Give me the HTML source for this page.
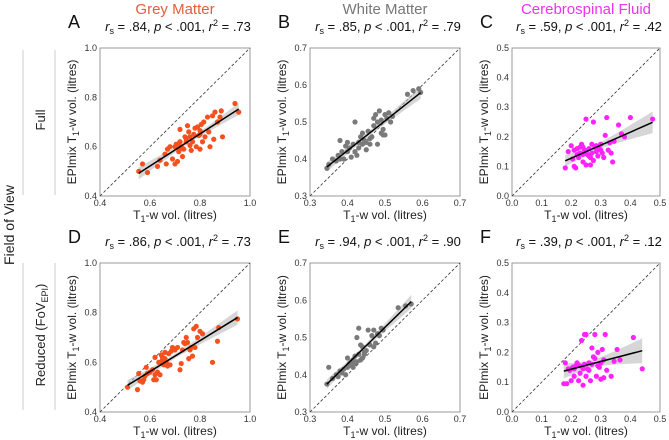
<!DOCTYPE html>
<html><head><meta charset="utf-8"><style>
body{margin:0;background:#fff;}
svg{display:block;font-family:"Liberation Sans",sans-serif;}
</style></head><body>
<svg id="fig" width="669" height="440" viewBox="0 0 669 440">
<g>
<line x1="23" y1="50" x2="23" y2="195" stroke="#ccc"/>
<line x1="55" y1="50" x2="55" y2="195" stroke="#ccc"/>
<line x1="23" y1="263" x2="23" y2="410" stroke="#ccc"/>
<line x1="55" y1="263" x2="55" y2="410" stroke="#ccc"/>
<text transform="translate(14,225) rotate(-90)" text-anchor="middle" font-size="14" fill="#222">Field of View</text>
<text transform="translate(45,120) rotate(-90)" text-anchor="middle" font-size="13" fill="#222">Full</text>
<text transform="translate(45,335) rotate(-90)" text-anchor="middle" font-size="13" fill="#222">Reduced (FoV<tspan font-size="9" dy="3">EPI</tspan><tspan dy="-3">)</tspan></text>
</g>
<text x="175" y="14" text-anchor="middle" font-size="15" fill="#e0603a">Grey Matter</text>
<text x="385" y="14" text-anchor="middle" font-size="15" fill="#777">White Matter</text>
<text x="586" y="14" text-anchor="middle" font-size="15" fill="#ee33ee">Cerebrospinal Fluid</text>
</svg>
<script>
const aX=[0.555,0.57,0.59,0.63,0.64,0.66,0.665,0.67,0.68,0.69,0.70,0.70,0.705,0.71,0.715,0.72,0.72,0.725,0.73,0.735,0.74,0.745,0.75,0.755,0.76,0.765,0.77,0.775,0.78,0.785,0.79,0.795,0.80,0.80,0.805,0.81,0.815,0.82,0.83,0.835,0.84,0.85,0.855,0.86,0.87,0.88,0.885,0.89,0.94,0.955,0.71,0.745,0.76,0.72,0.80];
const aY=[0.50,0.53,0.495,0.52,0.545,0.57,0.53,0.59,0.60,0.55,0.53,0.60,0.61,0.54,0.58,0.62,0.67,0.60,0.56,0.59,0.64,0.62,0.685,0.66,0.605,0.585,0.62,0.65,0.675,0.60,0.68,0.645,0.59,0.65,0.69,0.62,0.70,0.64,0.72,0.66,0.60,0.725,0.63,0.74,0.70,0.72,0.745,0.64,0.775,0.74,0.61,0.63,0.64,0.59,0.665];
const bX=[0.345,0.35,0.36,0.37,0.375,0.38,0.385,0.39,0.395,0.40,0.405,0.41,0.415,0.42,0.42,0.425,0.43,0.435,0.44,0.445,0.45,0.455,0.46,0.465,0.47,0.47,0.475,0.48,0.48,0.485,0.49,0.495,0.50,0.50,0.505,0.51,0.515,0.52,0.56,0.575,0.59,0.595,0.44,0.46,0.43,0.45,0.49,0.495,0.40,0.38];
const bY=[0.375,0.385,0.40,0.395,0.41,0.45,0.42,0.40,0.435,0.445,0.43,0.405,0.44,0.50,0.42,0.41,0.43,0.46,0.44,0.45,0.425,0.475,0.44,0.46,0.49,0.51,0.52,0.44,0.50,0.53,0.505,0.48,0.465,0.52,0.51,0.525,0.50,0.515,0.575,0.585,0.59,0.58,0.47,0.455,0.445,0.445,0.47,0.465,0.42,0.40];
const cX=[0.18,0.19,0.20,0.205,0.21,0.215,0.22,0.22,0.225,0.23,0.235,0.24,0.24,0.245,0.25,0.25,0.255,0.26,0.265,0.27,0.275,0.275,0.28,0.285,0.29,0.295,0.30,0.305,0.31,0.315,0.32,0.325,0.33,0.335,0.34,0.345,0.36,0.37,0.38,0.40,0.475,0.21,0.23,0.26,0.285,0.25,0.27,0.30,0.24,0.265];
const cY=[0.095,0.15,0.17,0.125,0.10,0.095,0.14,0.16,0.13,0.145,0.175,0.115,0.165,0.155,0.105,0.26,0.14,0.16,0.13,0.145,0.25,0.12,0.165,0.15,0.135,0.16,0.175,0.145,0.13,0.205,0.265,0.155,0.18,0.145,0.115,0.185,0.24,0.21,0.20,0.265,0.26,0.155,0.165,0.135,0.17,0.15,0.175,0.155,0.14,0.105];
const dX=[0.51,0.55,0.555,0.56,0.57,0.575,0.58,0.585,0.59,0.60,0.61,0.615,0.62,0.625,0.63,0.635,0.64,0.645,0.65,0.655,0.66,0.665,0.67,0.675,0.68,0.685,0.69,0.70,0.71,0.72,0.725,0.73,0.735,0.74,0.745,0.75,0.755,0.76,0.765,0.77,0.775,0.78,0.785,0.79,0.80,0.81,0.85,0.87,0.875,0.95,0.64,0.65,0.66,0.62];
const dY=[0.50,0.49,0.555,0.525,0.52,0.53,0.545,0.58,0.555,0.56,0.57,0.53,0.62,0.53,0.56,0.60,0.55,0.63,0.61,0.59,0.64,0.60,0.585,0.635,0.59,0.645,0.66,0.65,0.66,0.57,0.595,0.65,0.68,0.675,0.70,0.68,0.615,0.65,0.66,0.625,0.735,0.66,0.745,0.70,0.725,0.715,0.60,0.685,0.74,0.775,0.60,0.62,0.615,0.55];
const eX=[0.345,0.35,0.36,0.37,0.375,0.38,0.385,0.39,0.395,0.40,0.40,0.405,0.41,0.415,0.42,0.42,0.425,0.43,0.43,0.435,0.44,0.44,0.445,0.45,0.455,0.46,0.465,0.47,0.47,0.475,0.48,0.485,0.49,0.495,0.535,0.555,0.57,0.415,0.425,0.435,0.41,0.445];
const eY=[0.375,0.42,0.39,0.40,0.395,0.41,0.405,0.415,0.40,0.445,0.42,0.43,0.435,0.44,0.45,0.43,0.50,0.525,0.455,0.48,0.475,0.445,0.46,0.465,0.52,0.48,0.505,0.52,0.475,0.485,0.51,0.505,0.525,0.52,0.58,0.585,0.59,0.42,0.435,0.44,0.425,0.455];
const fX=[0.175,0.18,0.185,0.19,0.195,0.20,0.205,0.21,0.215,0.22,0.225,0.23,0.235,0.24,0.24,0.245,0.245,0.25,0.25,0.255,0.26,0.265,0.27,0.27,0.275,0.28,0.28,0.285,0.29,0.295,0.30,0.305,0.31,0.31,0.315,0.32,0.335,0.345,0.355,0.365,0.41,0.44,0.23,0.26,0.29,0.21,0.30];
const fY=[0.095,0.165,0.095,0.145,0.14,0.105,0.15,0.12,0.155,0.165,0.105,0.13,0.24,0.09,0.145,0.26,0.16,0.26,0.12,0.145,0.14,0.105,0.215,0.16,0.185,0.18,0.26,0.12,0.20,0.15,0.11,0.21,0.175,0.115,0.26,0.14,0.12,0.17,0.21,0.175,0.25,0.145,0.155,0.165,0.155,0.145,0.165];
const gmTicks=["0.4","0.6","0.8","1.0"];
const wmTicks=["0.3","0.4","0.5","0.6","0.7"];
const csfTicks=["0.0","0.1","0.2","0.3","0.4","0.5"];
const panelStats=[".84",".001",".73",".85",".001",".79",".59",".001",".42",".86",".001",".73",".94",".001",".90",".39",".001",".12"];

const NS="http://www.w3.org/2000/svg";
const svg=document.getElementById('fig');
function mk(tag,attrs,parent){const e=document.createElementNS(NS,tag);for(const k in attrs)e.setAttribute(k,attrs[k]);(parent||svg).appendChild(e);return e;}
function panel(o){
  const g=mk('g',{});
  
  
  const lo=+o.ticks[0],hi=+o.ticks[o.ticks.length-1];
  const sx=v=>o.x0+(v-lo)/(hi-lo)*(o.x1-o.x0);
  const sy=v=>o.y1-(v-lo)/(hi-lo)*(o.y1-o.y0);
  const box=mk('rect',{x:o.x0,y:o.y0,width:o.x1-o.x0,height:o.y1-o.y0,fill:'none',stroke:'#999','stroke-width':1},g);
  
  
  const diag=mk('line',{x1:sx(lo),y1:sy(lo),x2:sx(hi),y2:sy(hi),stroke:'#333','stroke-width':0.8,'stroke-dasharray':'3,2'},g);
  
  
  o.ticks.forEach(t=>{
    const v=+t;
    const xt=mk('text',{x:sx(v),y:o.y1+10,'text-anchor':'middle','font-size':9,fill:'#333'},g);xt.textContent=t;
    
    
    const yt=mk('text',{x:o.x0-3,y:sy(v)+3,'text-anchor':'end','font-size':9,fill:'#333'},g);yt.textContent=t;
    
    
  });
  const X=o.xs,Y=o.ys,n=X.length;
  const mx=X.reduce((a,b)=>a+b)/n,my=Y.reduce((a,b)=>a+b)/n;
  let sxx=0,sxy=0;for(let i=0;i<n;i++){sxx+=(X[i]-mx)**2;sxy+=(X[i]-mx)*(Y[i]-my);}
  const b=sxy/sxx,a=my-b*mx;
  let sse=0;for(let i=0;i<n;i++)sse+=(Y[i]-a-b*X[i])**2;
  const se=Math.sqrt(sse/(n-2));
  const xmin=Math.min(...X),xmax=Math.max(...X);
  let up=[],dn=[];
  for(let k=0;k<=30;k++){const x=xmin+(xmax-xmin)*k/30;const h=2*se*Math.sqrt(1/n+(x-mx)**2/sxx);
    up.push(sx(x).toFixed(1)+','+sy(a+b*x+h).toFixed(1));dn.unshift(sx(x).toFixed(1)+','+sy(a+b*x-h).toFixed(1));}
  const band=mk('polygon',{points:up.concat(dn).join(' '),fill:'#bbb','fill-opacity':0.6},g);
  
  
  for(let i=0;i<n;i++){
    const c=mk('circle',{cx:sx(X[i]),cy:sy(Y[i]),r:2.6,fill:o.color},g);
    
    
  }
  const rl=mk('line',{x1:sx(xmin),y1:sy(a+b*xmin),x2:sx(xmax),y2:sy(a+b*xmax),stroke:'#000','stroke-width':1.5},g);
  
  
  const xl=mk('text',{x:(o.x0+o.x1)/2,y:o.y1+23,'text-anchor':'middle','font-size':12,fill:'#222'},g);
  xl.innerHTML='T<tspan font-size="9" dy="3">1</tspan><tspan dy="-3">-w vol. (litres)</tspan>';
  
  
  const cy=(o.y0+o.y1)/2;
  const yl=mk('text',{transform:'translate('+(o.x0-24)+','+cy+') rotate(-90)','text-anchor':'middle','font-size':12,fill:'#222'},g);
  yl.innerHTML='EPImix T<tspan font-size="9" dy="3">1</tspan><tspan dy="-3">-w vol. (litres)</tspan>';
  
  
  const L=mk('text',{x:o.x0-32,y:o.y0-20,'font-size':18,fill:'#111'},g);L.textContent=o.letter;
  
  
  const st=mk('text',{x:(o.x0+o.x1)/2+3,y:o.y0-17,'text-anchor':'middle','font-size':13,fill:'#111'},g);
  st.innerHTML='<tspan font-style="italic">r</tspan><tspan font-size="9" dy="3">s</tspan><tspan dy="-3"> = '+o.s[0]+', </tspan><tspan font-style="italic">p</tspan> &lt; '+o.s[1]+', <tspan font-style="italic">r</tspan><tspan font-size="9" dy="-5">2</tspan><tspan dy="5"> = '+o.s[2]+'</tspan>';
  
  
}
const OR='#f4511e',GR='#7a7a7a',MG='#ff22ff';
const S=i=>panelStats.slice(i*3,i*3+3);
panel({letter:'A',xs:aX,ys:aY,ticks:gmTicks,color:OR,x0:100,x1:250,y0:48,y1:196,s:S(0)});
panel({letter:'B',xs:bX,ys:bY,ticks:wmTicks,color:GR,x0:310,x1:460,y0:48,y1:196,s:S(1)});
panel({letter:'C',xs:cX,ys:cY,ticks:csfTicks,color:MG,x0:512,x1:660,y0:48,y1:196,s:S(2)});
panel({letter:'D',xs:dX,ys:dY,ticks:gmTicks,color:OR,x0:100,x1:250,y0:263,y1:412,s:S(3)});
panel({letter:'E',xs:eX,ys:eY,ticks:wmTicks,color:GR,x0:310,x1:460,y0:263,y1:412,s:S(4)});
panel({letter:'F',xs:fX,ys:fY,ticks:csfTicks,color:MG,x0:512,x1:660,y0:263,y1:412,s:S(5)});
</script>
</body></html>
